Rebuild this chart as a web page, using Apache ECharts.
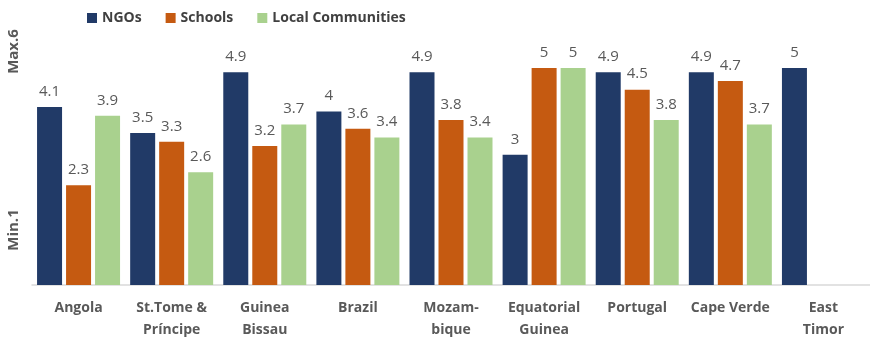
<!DOCTYPE html>
<html>
<head>
<meta charset="utf-8">
<title>Ratings by partner type</title>
<script src="https://cdn.jsdelivr.net/npm/echarts@6/dist/echarts.min.js"></script>
<style>
  html, body { margin: 0; padding: 0; background: #ffffff; }
  #chart { width: 870px; height: 342px; }
</style>
</head>
<body>
<div id="chart"></div>
<script>
// Countries on the category axis (two-line names use \n)
const categories = [
  'Angola', 'St.Tome &\nPríncipe', 'Guinea\nBissau', 'Brazil', 'Mozam-\nbique',
  'Equatorial\nGuinea', 'Portugal', 'Cape Verde', 'East\nTimor'
];

// Average rating per partner type (scale 1 to 6)
const ngos = [4.1, 3.5, 4.9, 4, 4.9, 3, 4.9, 4.9, 5];
const schools = [2.3, 3.3, 3.2, 3.6, 3.8, 5, 4.5, 4.7, null];
const localCommunities = [3.9, 2.6, 3.7, 3.4, 3.4, 5, 3.8, 3.7, null];

const seriesNames = ['NGOs', 'Schools', 'Local Communities'];
const colors = ['#213a67', '#c55a11', '#a9d18e'];

const textGrey = '#595959';
const fontFamily = '"Open Sans", "Noto Sans", sans-serif';

const chart = echarts.init(document.getElementById('chart'), null, { renderer: 'canvas' });

function barSeries(name, data, color) {
  return {
    name: name,
    type: 'bar',
    data: data,
    barWidth: 25,
    barGap: '16%',
    itemStyle: { color: color },
    label: {
      show: true,
      position: 'top',
      distance: 8,
      color: textGrey,
      fontSize: 15,
      fontFamily: fontFamily
    }
  };
}

chart.setOption({
  animation: false,
  color: colors,
  legend: {
    left: 82,
    top: 6,
    itemWidth: 10,
    itemHeight: 10,
    itemGap: 24,
    icon: 'rect',
    textStyle: { color: '#404040', fontSize: 14, fontWeight: 'bold', fontFamily: fontFamily },
    data: seriesNames
  },
  grid: { left: 32, top: 24.6, width: 848, bottom: 57, containLabel: false },
  xAxis: {
    type: 'category',
    data: categories,
    axisLine: { lineStyle: { color: '#d9d9d9', width: 1.5 } },
    axisTick: { show: false },
    axisLabel: {
      color: textGrey,
      fontSize: 14,
      fontWeight: 'bold',
      fontFamily: fontFamily,
      lineHeight: 22,
      margin: 12,
      interval: 0
    }
  },
  yAxis: {
    type: 'value',
    min: 0,
    max: 6,
    interval: 1,
    axisLine: { show: false },
    axisTick: { show: false },
    axisLabel: { show: false },
    splitLine: { show: false }
  },
  graphic: [
    {
      type: 'text',
      x: 14, y: 51.5,
      rotation: Math.PI / 2,
      style: {
        text: 'Max.6', fill: textGrey, fontSize: 15, fontWeight: 'bold',
        fontFamily: fontFamily, align: 'center', verticalAlign: 'middle'
      }
    },
    {
      type: 'text',
      x: 14, y: 230,
      rotation: Math.PI / 2,
      style: {
        text: 'Min.1', fill: textGrey, fontSize: 15, fontWeight: 'bold',
        fontFamily: fontFamily, align: 'center', verticalAlign: 'middle'
      }
    }
  ],
  series: [
    barSeries(seriesNames[0], ngos, colors[0]),
    barSeries(seriesNames[1], schools, colors[1]),
    barSeries(seriesNames[2], localCommunities, colors[2])
  ]
});
</script>
</body>
</html>
